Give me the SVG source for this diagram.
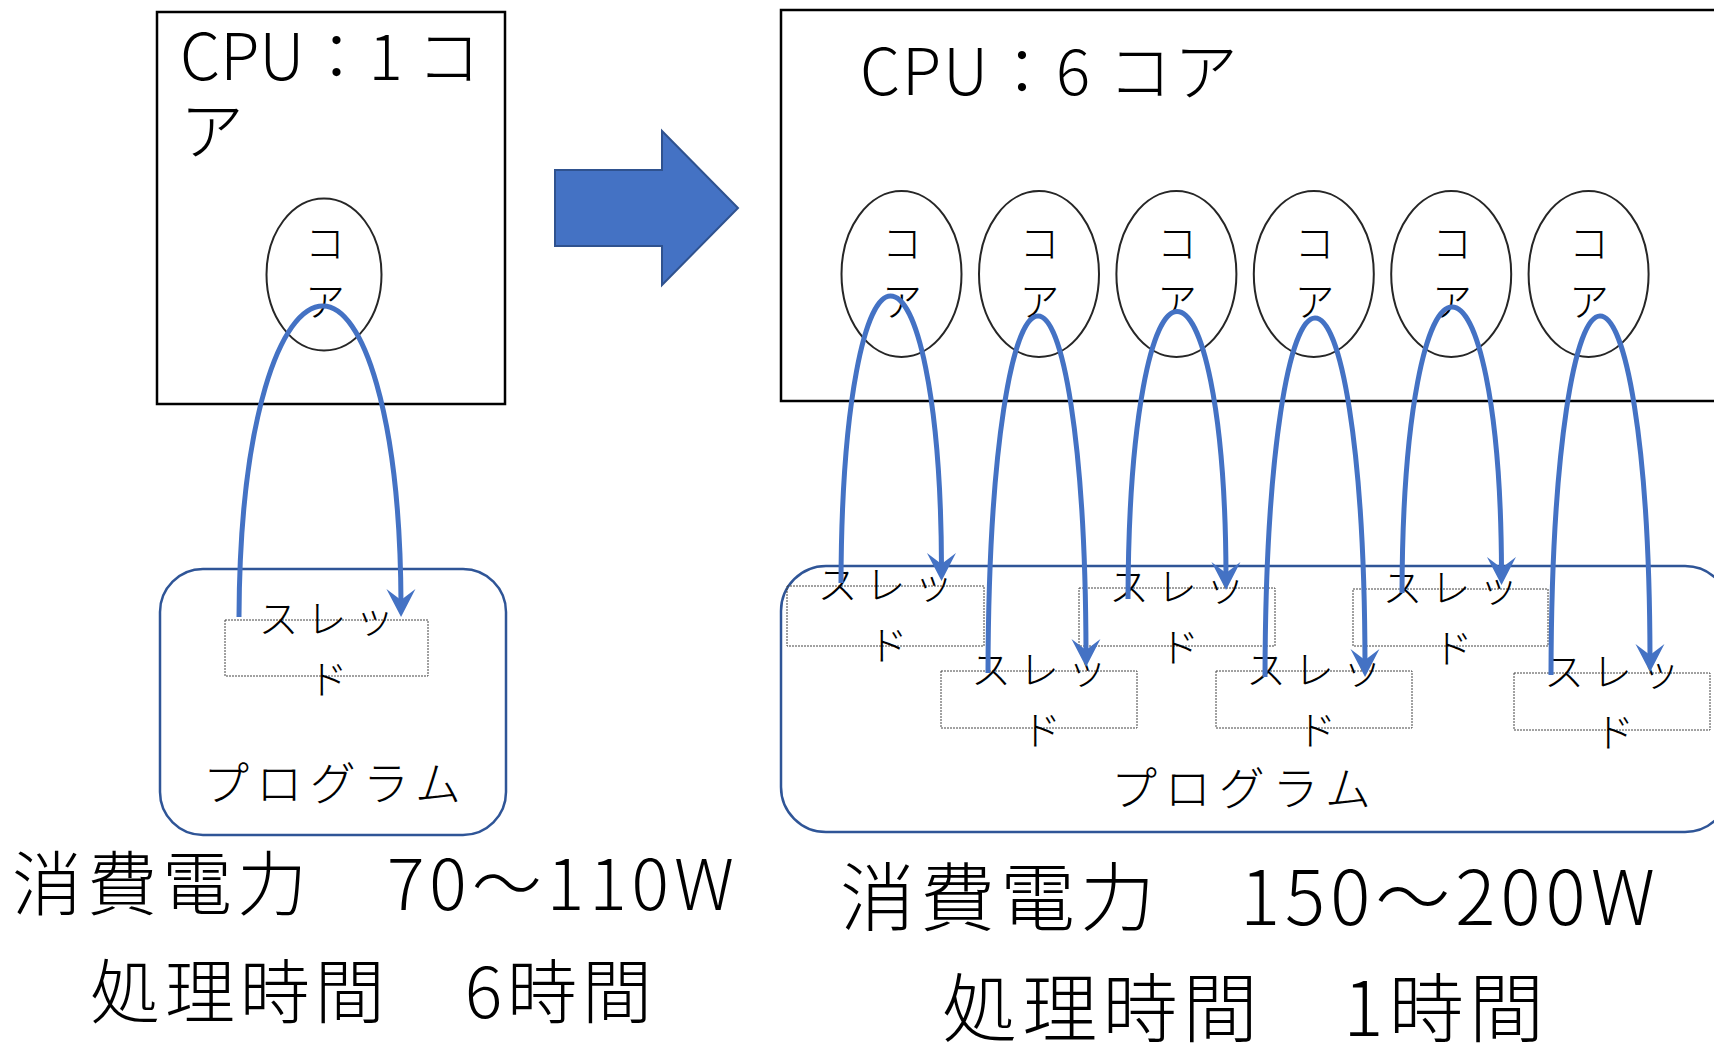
<svg xmlns="http://www.w3.org/2000/svg" width="1714" height="1045" viewBox="0 0 1714 1045">
<style>
text{font-family:"Noto Sans CJK JP","Noto Sans",sans-serif;font-weight:300;fill:#000}
.cpu{fill:#fff;stroke:#000;stroke-width:2.5}
.core{fill:none;stroke:#262626;stroke-width:2}
.prog{fill:none;stroke:#2F5597;stroke-width:2.5}
.thr{fill:none;stroke:#444;stroke-width:1;stroke-dasharray:2 1}
.title{font-size:64px}
.cl{font-size:40px;text-anchor:middle}
.tl{font-size:40px;text-anchor:middle}
.pl{font-size:46px;text-anchor:middle}
.conn{fill:none;stroke:#4472C4;stroke-width:5}
</style>
<defs>
<marker id="ah" markerUnits="userSpaceOnUse" markerWidth="30" markerHeight="30" refX="14" refY="0" orient="auto" overflow="visible">
<path d="M28,0 L0,-14.5 L11,0 L0,14.5 Z" fill="#4472C4"/>
</marker>
</defs>
<rect width="1714" height="1045" fill="#fff"/>

<g id="cpu1">
<rect class="cpu" x="157" y="12" width="348" height="392"/>
<text class="title" x="180" y="80">CPU：1 コ<tspan x="180" y="154">ア</tspan></text>
</g>
<g id="core1">
<ellipse class="core" cx="324" cy="274.5" rx="57.5" ry="76"/>
<text class="cl" x="325" y="258">コ<tspan x="325" y="316">ア</tspan></text>
</g>
<g id="program1">
<rect class="prog" x="160" y="569" width="346" height="266" rx="43"/>
<text class="pl" x="332" y="800" textLength="258">プログラム</text>
</g>
<g id="thread1">
<rect class="thr" x="225" y="620" width="203" height="56"/>
<text class="tl" x="326.5" y="633" textLength="136">スレッ</text>
<text class="tl" x="328" y="694">ド</text>
</g>

<g id="bigarrow">
<polygon points="555,170 662,170 662,131 738,208 662,285 662,246 555,246" fill="#4472C4" stroke="#2F528F" stroke-width="2"/>
</g>

<g id="cpu6">
<rect class="cpu" x="781" y="10" width="945" height="391"/>
<text class="title" x="860" y="95" textLength="378">CPU：6 コア</text>
</g>
<g id="core6-1"><ellipse class="core" cx="901.5" cy="274" rx="60" ry="83"/><text class="cl" x="902" y="258">コ<tspan x="902" y="316">ア</tspan></text></g>
<g id="core6-2"><ellipse class="core" cx="1039" cy="274" rx="60" ry="83"/><text class="cl" x="1039.5" y="258">コ<tspan x="1039.5" y="316">ア</tspan></text></g>
<g id="core6-3"><ellipse class="core" cx="1176.4" cy="274" rx="60" ry="83"/><text class="cl" x="1177" y="258">コ<tspan x="1177" y="316">ア</tspan></text></g>
<g id="core6-4"><ellipse class="core" cx="1313.8" cy="274" rx="60" ry="83"/><text class="cl" x="1314.5" y="258">コ<tspan x="1314.5" y="316">ア</tspan></text></g>
<g id="core6-5"><ellipse class="core" cx="1451.2" cy="274" rx="60" ry="83"/><text class="cl" x="1452" y="258">コ<tspan x="1452" y="316">ア</tspan></text></g>
<g id="core6-6"><ellipse class="core" cx="1588.6" cy="274" rx="60" ry="83"/><text class="cl" x="1589" y="258">コ<tspan x="1589" y="316">ア</tspan></text></g>

<g id="program6">
<rect class="prog" x="781" y="566" width="949" height="266" rx="45"/>
<text class="pl" x="1241" y="805" textLength="260">プログラム</text>
</g>
<g id="thread6-1"><rect class="thr" x="787" y="586" width="197" height="60"/><text class="tl" x="885.5" y="599" textLength="136">スレッ</text><text class="tl" x="888" y="660">ド</text></g>
<g id="thread6-2"><rect class="thr" x="941" y="671" width="196" height="57"/><text class="tl" x="1039" y="684" textLength="136">スレッ</text><text class="tl" x="1041.5" y="745">ド</text></g>
<g id="thread6-3"><rect class="thr" x="1079" y="588" width="196" height="58"/><text class="tl" x="1177" y="601" textLength="136">スレッ</text><text class="tl" x="1179.5" y="662">ド</text></g>
<g id="thread6-4"><rect class="thr" x="1216" y="671" width="196" height="57"/><text class="tl" x="1314" y="684" textLength="136">スレッ</text><text class="tl" x="1316.5" y="745">ド</text></g>
<g id="thread6-5"><rect class="thr" x="1353" y="589" width="195" height="57"/><text class="tl" x="1450.5" y="602" textLength="136">スレッ</text><text class="tl" x="1453" y="663">ド</text></g>
<g id="thread6-6"><rect class="thr" x="1514" y="673" width="196" height="57"/><text class="tl" x="1612" y="686" textLength="136">スレッ</text><text class="tl" x="1614.5" y="747">ド</text></g>

<g id="labels">
<text x="12" y="910" font-size="70" textLength="722">消費電力　70～110W</text>
<text x="90" y="1018" font-size="70" textLength="562">処理時間　6時間</text>
<text x="840" y="925" font-size="75" textLength="815">消費電力　150～200W</text>
<text x="942" y="1036" font-size="75" textLength="602">処理時間　1時間</text>
</g>

<g id="connectors">
<path class="conn" marker-end="url(#ah)" d="M239,617 C239.8,420 280.2,306 323,306 C362.8,306 400.2,415 401,603"/>
<path class="conn" marker-end="url(#ah)" d="M841,583 C841.5,401.3 865.3,296 890.5,296 C916.5,296 941,395.5 941.5,567"/>
<path class="conn" marker-end="url(#ah)" d="M988,673 C988.5,447 1012.5,316 1038,316 C1062.5,316 1085.5,439.7 1086,653"/>
<path class="conn" marker-end="url(#ah)" d="M1128,599 C1128.5,417 1152,311.5 1177,311.5 C1202,311.5 1225.5,408.6 1226,576"/>
<path class="conn" marker-end="url(#ah)" d="M1265,677 C1265.5,449.8 1289.5,318 1315,318 C1340.5,318 1364.5,444.6 1365,663"/>
<path class="conn" marker-end="url(#ah)" d="M1402,593 C1402.5,412 1426.5,307 1452,307 C1477.2,307 1501,403.9 1501.5,571"/>
<path class="conn" marker-end="url(#ah)" d="M1551,675 C1551.5,447.8 1575,316 1600,316 C1625.5,316 1649.5,441.5 1650,658"/>
</g>
</svg>
